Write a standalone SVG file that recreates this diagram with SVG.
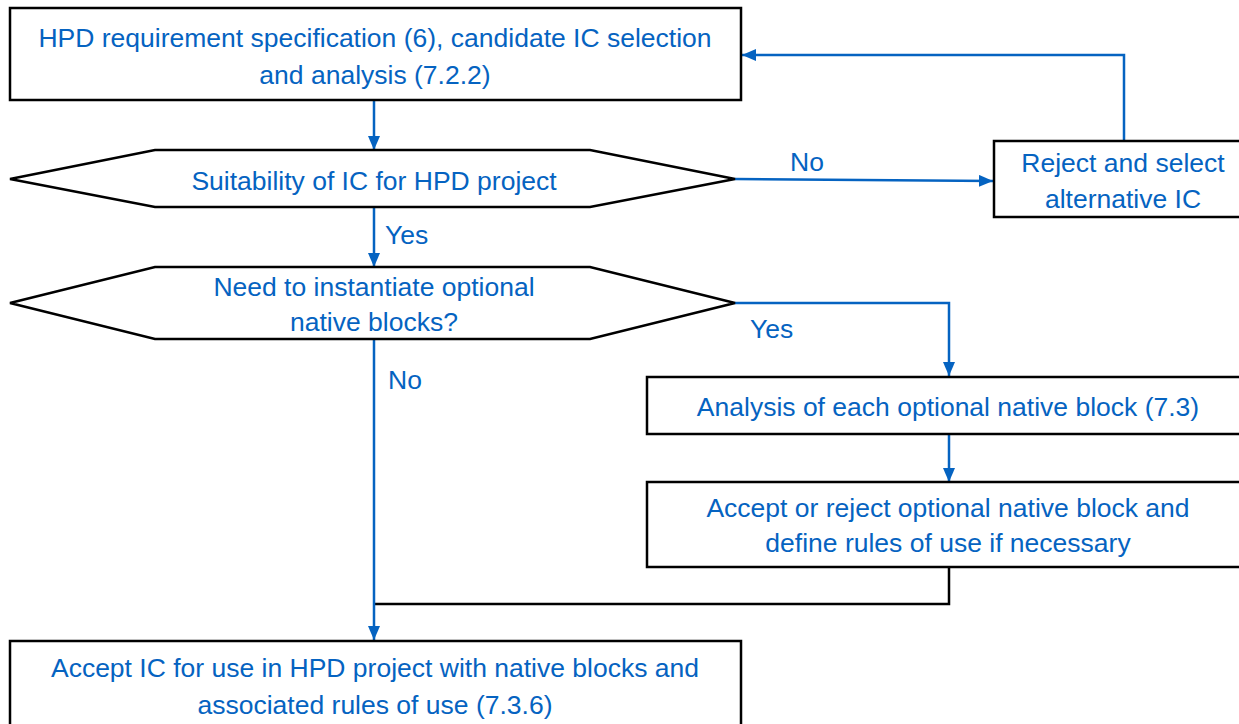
<svg xmlns="http://www.w3.org/2000/svg" width="1239" height="724" viewBox="0 0 1239 724">
<style>
.box{fill:#fff;stroke:#000;stroke-width:2.5}
.t{font-family:"Liberation Sans",Arial,sans-serif;font-size:26.5px;fill:#0563C1;text-anchor:middle}
.l{font-family:"Liberation Sans",Arial,sans-serif;font-size:26.5px;fill:#0563C1}
.c{fill:none;stroke:#0563C1;stroke-width:2.5}
.k{fill:none;stroke:#000;stroke-width:2.5}
</style>
<defs>
<marker id="ah" viewBox="0 0 14 12" refX="14" refY="6" markerWidth="14" markerHeight="12" markerUnits="userSpaceOnUse" orient="auto">
<path d="M0,0 L14,6 L0,12 z" fill="#0563C1"/>
</marker>
</defs>
<rect width="1239" height="724" fill="#fff"/>
<g id="connectors">
<path class="c" d="M374,100 V150" marker-end="url(#ah)"/>
<path class="c" d="M735,179 L993,181" marker-end="url(#ah)"/>
<path class="c" d="M1124,142 V55 H742" marker-end="url(#ah)"/>
<path class="c" d="M374,207 V267" marker-end="url(#ah)"/>
<path class="c" d="M735,303 H949 V376" marker-end="url(#ah)"/>
<path class="c" d="M949,434 V482" marker-end="url(#ah)"/>
<path class="k" d="M949,567 V604 H374"/>
<path class="c" d="M374,339 V640" marker-end="url(#ah)"/>
<text class="l" x="790" y="171">No</text>
<text class="l" x="385" y="244">Yes</text>
<text class="l" x="750" y="338">Yes</text>
<text class="l" x="388" y="389">No</text>
</g>
<g id="n1">
<rect class="box" x="10" y="8" width="731" height="92"/>
<text class="t" x="375" y="47">HPD requirement specification (6), candidate IC selection</text>
<text class="t" x="375" y="84">and analysis (7.2.2)</text>
</g>
<g id="n2">
<polygon class="box" points="10,179 155,150 590,150 735,179 590,207 155,207"/>
<text class="t" x="374" y="190">Suitability of IC for HPD project</text>
</g>
<g id="n3">
<rect class="box" x="994" y="141" width="250" height="76"/>
<text class="t" x="1123" y="172">Reject and select</text>
<text class="t" x="1123" y="208">alternative IC</text>
</g>
<g id="n4">
<polygon class="box" points="10,303 155,267 590,267 735,303 590,339 155,339"/>
<text class="t" x="374" y="296">Need to instantiate optional</text>
<text class="t" x="374" y="331">native blocks?</text>
</g>
<g id="n5">
<rect class="box" x="647" y="377" width="600" height="57"/>
<text class="t" x="948" y="416">Analysis of each optional native block (7.3)</text>
</g>
<g id="n6">
<rect class="box" x="647" y="482" width="600" height="85"/>
<text class="t" x="948" y="517">Accept or reject optional native block and</text>
<text class="t" x="948" y="552">define rules of use if necessary</text>
</g>
<g id="n7">
<rect class="box" x="10" y="641" width="731" height="95"/>
<text class="t" x="375" y="677">Accept IC for use in HPD project with native blocks and</text>
<text class="t" x="375" y="714">associated rules of use (7.3.6)</text>
</g>
</svg>
